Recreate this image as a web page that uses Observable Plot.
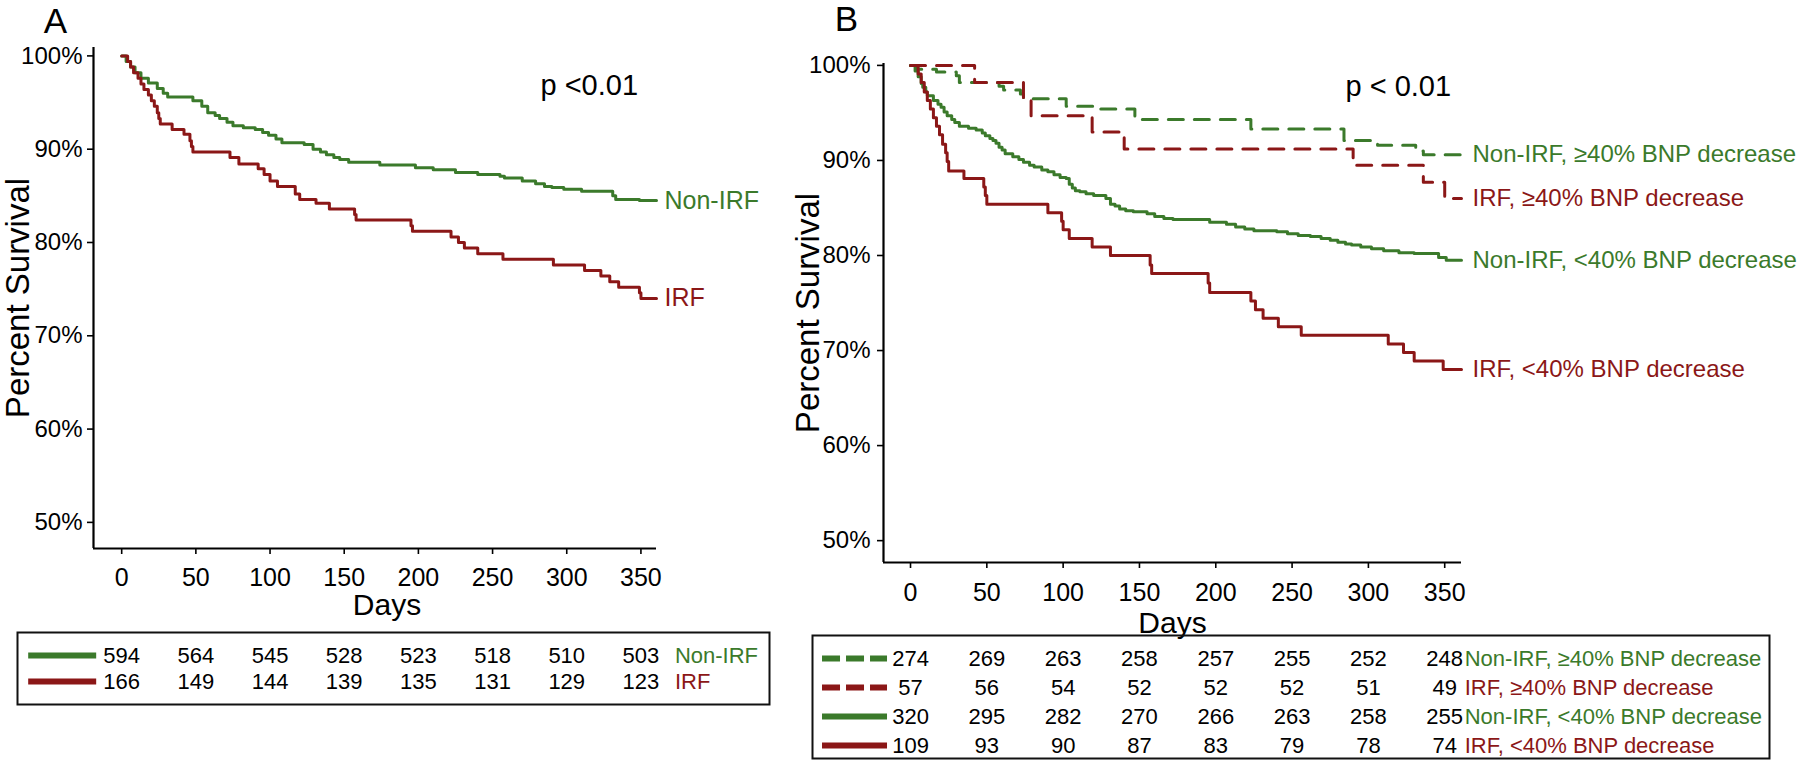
<!DOCTYPE html>
<html><head><meta charset="utf-8">
<script src="https://cdn.jsdelivr.net/npm/d3@7"></script>
<script src="https://cdn.jsdelivr.net/npm/@observablehq/plot@0.6"></script>
<style>
html,body{margin:0;padding:0;background:#fff;}
#root{position:relative;width:1800px;height:763px;overflow:hidden;background:#fff;font-family:"Liberation Sans",Arial,sans-serif;}
#root > div{position:absolute;}
</style></head><body><div id="root">
<div id="plotA" style="left:0;top:0;width:800px;height:625px"></div>
<div id="plotB" style="left:760px;top:0;width:1040px;height:640px"></div>
<div id="tableA" style="left:0;top:620px;width:800px;height:95px"></div>
<div id="tableB" style="left:760px;top:630px;width:1040px;height:133px"></div>
</div>
<script>
// ---------- data ----------
const xTicks = [0, 50, 100, 150, 200, 250, 300, 350];
const yTicks = [50, 60, 70, 80, 90, 100];
const atRiskDays = [0, 50, 100, 150, 200, 250, 300, 350];

// Panel A Kaplan-Meier steps [day, % survival]
const kmA_nonIRF = [[0,100],[3,99.4],[6,98.8],[9,98.2],[13,97.6],[18,97.1],[24,96.5],[28,96.0],[31,95.6],[48,95.2],[54,94.6],[58,93.9],[63,93.6],[66,93.3],[71,92.9],[75,92.5],[82,92.3],[90,92.1],[95,91.8],[99,91.5],[104,91.1],[108,90.7],[123,90.5],[129,90.0],[134,89.7],[138,89.4],[143,89.1],[147,88.9],[153,88.6],[174,88.3],[198,88.0],[210,87.8],[225,87.5],[240,87.3],[255,87.1],[258,86.9],[270,86.6],[279,86.3],[285,86.0],[290,85.9],[298,85.7],[310,85.5],[331,85.0],[333,84.6],[349,84.5],[360.5,84.5]];
const kmA_IRF = [[0,100],[4,99.4],[6,98.8],[8,98.2],[11,97.6],[13,97.0],[15,96.4],[18,95.8],[20,95.2],[22,94.6],[24,93.9],[25,93.3],[26,92.7],[34,92.1],[42,91.6],[46,90.9],[47,90.3],[48,89.7],[73,89.1],[79,88.4],[92,87.9],[96,87.3],[100,86.6],[105,86.0],[117,85.2],[120,84.6],[131,84.2],[140,83.6],[157,83.0],[158,82.4],[195,81.8],[196,81.2],[222,80.6],[227,80.0],[231,79.4],[240,78.8],[257,78.2],[291,77.6],[312,77.0],[323,76.4],[329,75.8],[335,75.2],[349,74.6],[350,74.0],[360.5,74.0]];

// Panel B Kaplan-Meier steps [day, % survival]
const kmB_nonIRF_ge40 = [[0,100],[4,99.6],[17,99.3],[30,98.9],[32,98.2],[58,97.8],[61,97.4],[72,97.0],[74,96.5],[102,95.7],[123,95.4],[147,94.3],[223,93.3],[284,92.1],[302,91.8],[306,91.6],[331,91.0],[336,90.6],[361,90.6]];
const kmB_IRF_ge40 = [[0,100],[42,98.2],[74,96.5],[79,94.7],[119,93.0],[140,91.2],[290,89.5],[336,87.7],[350,86.0],[361,86.0]];
const kmB_nonIRF_lt40 = [[0,100],[3,99.4],[5,98.8],[7,98.1],[8,97.7],[10,97.2],[11,96.8],[15,96.3],[18,95.9],[20,95.6],[22,95.1],[24,94.7],[27,94.3],[29,94.0],[32,93.6],[38,93.4],[43,93.2],[47,92.9],[49,92.6],[52,92.3],[54,92.1],[56,91.8],[58,91.4],[60,91.1],[62,90.7],[67,90.4],[71,90.1],[74,89.8],[78,89.5],[81,89.3],[86,89.0],[90,88.8],[94,88.5],[98,88.2],[102,88.1],[104,87.5],[106,87.1],[108,86.8],[111,86.7],[115,86.5],[120,86.3],[128,86.0],[131,85.4],[134,85.2],[137,84.9],[141,84.7],[146,84.6],[155,84.4],[160,84.1],[166,83.9],[172,83.8],[196,83.5],[207,83.3],[213,83.0],[219,82.8],[225,82.6],[240,82.5],[247,82.3],[254,82.1],[262,82.0],[269,81.8],[275,81.6],[280,81.4],[285,81.2],[289,81.1],[295,80.9],[302,80.7],[310,80.5],[320,80.3],[330,80.2],[346,79.8],[351,79.5],[361,79.5]];
const kmB_IRF_lt40 = [[0,100],[5,99.1],[7,98.2],[9,97.2],[11,96.3],[13,95.4],[15,94.5],[17,93.6],[19,92.7],[21,91.7],[23,90.8],[24,89.9],[25,88.9],[35,88.1],[48,87.2],[49,86.3],[50,85.4],[90,84.5],[99,83.6],[100,82.7],[104,81.8],[119,80.9],[131,80.0],[157,79.0],[158,78.1],[195,77.1],[196,76.1],[223,75.2],[226,74.3],[231,73.4],[241,72.5],[256,71.6],[313,70.7],[323,69.8],[330,68.9],[349,68.0],[361,68.0]];

// Numbers at risk
const riskA_nonIRF = [594, 564, 545, 528, 523, 518, 510, 503];
const riskA_IRF = [166, 149, 144, 139, 135, 131, 129, 123];
const riskB_nonIRF_ge40 = [274, 269, 263, 258, 257, 255, 252, 248];
const riskB_IRF_ge40 = [57, 56, 54, 52, 52, 52, 51, 49];
const riskB_nonIRF_lt40 = [320, 295, 282, 270, 266, 263, 258, 255];
const riskB_IRF_lt40 = [109, 93, 90, 87, 83, 79, 78, 74];

const groupsA = ["Non-IRF", "IRF"];
const groupsB = ["Non-IRF, ≥40% BNP decrease", "IRF, ≥40% BNP decrease", "Non-IRF, <40% BNP decrease", "IRF, <40% BNP decrease"];

// ---------- styling ----------
const GREEN = "#3b7a2b", RED = "#8b1717";
const FONT = "'Liberation Sans', Arial, sans-serif";
const DASH = "15,11";

const seriesA = [
  {name: groupsA[0], pts: kmA_nonIRF, risk: riskA_nonIRF, color: GREEN, dash: null},
  {name: groupsA[1], pts: kmA_IRF, risk: riskA_IRF, color: RED, dash: null}
];
const seriesB = [
  {name: groupsB[0], pts: kmB_nonIRF_ge40, risk: riskB_nonIRF_ge40, color: GREEN, dash: DASH},
  {name: groupsB[1], pts: kmB_IRF_ge40, risk: riskB_IRF_ge40, color: RED, dash: DASH},
  {name: groupsB[2], pts: kmB_nonIRF_lt40, risk: riskB_nonIRF_lt40, color: GREEN, dash: null},
  {name: groupsB[3], pts: kmB_IRF_lt40, risk: riskB_IRF_lt40, color: RED, dash: null}
];

const baseStyle = {background: "transparent", overflow: "visible", fontFamily: FONT, fontSize: "24px", color: "#000"};

function kmPanel(o) {
  const [x0, x1] = o.xDomain, [y0, y1] = o.yDomain;
  const marks = [
    Plot.ruleX([x0], {y1: y0, y2: y1, strokeWidth: 2.2}),
    Plot.ruleY([y0], {x1: x0, x2: x1, strokeWidth: 2.2}),
    Plot.axisY({ticks: yTicks, tickFormat: d => d + "%", tickSize: 6, tickPadding: o.yPad, label: null, strokeWidth: 1.6, fontSize: 24}),
    Plot.axisX({ticks: xTicks, tickFormat: d => String(d), tickSize: 6, tickPadding: o.xPad, label: null, strokeWidth: 1.6, fontSize: 25})
  ];
  for (const s of o.series) {
    marks.push(Plot.line(s.pts, {x: d => d[0], y: d => d[1], curve: "step-after", stroke: s.color, strokeWidth: 3, strokeDasharray: s.dash || undefined}));
  }
  for (const s of o.series) {
    const last = s.pts[s.pts.length - 1];
    marks.push(Plot.text([s.name], {x: () => last[0], y: () => last[1], text: d => d, fill: s.color, textAnchor: "start", lineAnchor: "middle", dx: o.labelDx, fontSize: o.labelSize}));
  }
  marks.push(
    Plot.text([o.letter], {frameAnchor: "top-left", textAnchor: "middle", lineAnchor: "middle", dx: o.letterDx, dy: o.letterDy, fontSize: 35}),
    Plot.text([o.pText], {frameAnchor: "top-left", textAnchor: "start", lineAnchor: "middle", dx: o.pDx, dy: o.pDy, fontSize: 29}),
    Plot.text(["Days"], {frameAnchor: "bottom", textAnchor: "middle", lineAnchor: "middle", dx: o.daysDx, dy: o.daysDy, fontSize: 30}),
    Plot.text(["Percent Survival"], {frameAnchor: "left", textAnchor: "middle", lineAnchor: "middle", rotate: -90, dx: -75, fontSize: 33})
  );
  return Plot.plot({
    width: o.width, height: o.height,
    marginLeft: o.ml, marginRight: o.mr, marginTop: o.mt, marginBottom: o.mb,
    x: {domain: o.xDomain}, y: {domain: o.yDomain},
    style: baseStyle,
    marks
  });
}

function riskTable(o) {
  const rows = [];
  for (const s of o.series) s.risk.forEach((n, i) => rows.push({g: s.name, day: atRiskDays[i], n}));
  const marks = [Plot.frame({stroke: "#111", strokeWidth: 2})];
  for (const s of o.series) {
    marks.push(Plot.ruleY([s.name], {y: d => d, x1: () => atRiskDays[0], x2: () => atRiskDays[0], insetLeft: o.swL, insetRight: o.swR, stroke: s.color, strokeWidth: 6, strokeDasharray: s.dash ? o.swDash : undefined}));
    marks.push(Plot.text([s.name], {y: d => d, x: () => atRiskDays[atRiskDays.length - 1], text: d => d, fill: s.color, textAnchor: "start", lineAnchor: "middle", dx: o.labelDx, fontSize: 22}));
  }
  marks.push(Plot.text(rows, {x: "day", y: "g", text: d => String(d.n), textAnchor: "middle", lineAnchor: "middle", fontSize: 22, fill: "#000"}));
  return Plot.plot({
    width: o.width, height: o.height,
    marginLeft: o.ml, marginRight: o.mr, marginTop: o.mt, marginBottom: o.mb,
    x: {domain: o.xDomain, range: o.xRange, axis: null},
    y: {type: "point", domain: o.series.map(s => s.name), range: o.yRange, padding: 0, axis: null},
    style: baseStyle,
    marks
  });
}

document.getElementById("plotA").append(kmPanel({
  series: seriesA, width: 800, height: 625, ml: 93, mr: 144, mt: 47, mb: 77,
  xDomain: [-19, 360.5], yDomain: [47.2, 100.9], yPad: 5, xPad: 14,
  labelDx: 8, labelSize: 25,
  letter: "A", letterDx: -38, letterDy: -26,
  pText: "p <0.01", pDx: 447, pDy: 38,
  daysDx: 12, daysDy: 57
}));

document.getElementById("plotB").append(kmPanel({
  series: seriesB, width: 1040, height: 640, ml: 123, mr: 339, mt: 63, mb: 78,
  xDomain: [-17.7, 361], yDomain: [47.7, 100.2], yPad: 7, xPad: 15,
  labelDx: 11, labelSize: 24,
  letter: "B", letterDx: -37, letterDy: -44,
  pText: "p < 0.01", pDx: 462, pDy: 23,
  daysDx: 0, daysDy: 61
}));

document.getElementById("tableA").append(riskTable({
  series: seriesA, width: 800, height: 95, ml: 17, mr: 31, mt: 12, mb: 11,
  xDomain: [-19, 360.5], xRange: [93, 656], yRange: [35, 61],
  swL: -93, swR: 25, swDash: null, labelDx: 34
}));

document.getElementById("tableB").append(riskTable({
  series: seriesB, width: 1040, height: 133, ml: 52, mr: 31, mt: 5, mb: 5,
  xDomain: [-17.7, 361], xRange: [123, 701], yRange: [28, 115],
  swL: -88, swR: 23, swDash: "18,6", labelDx: 20
}));
</script>
</body></html>
